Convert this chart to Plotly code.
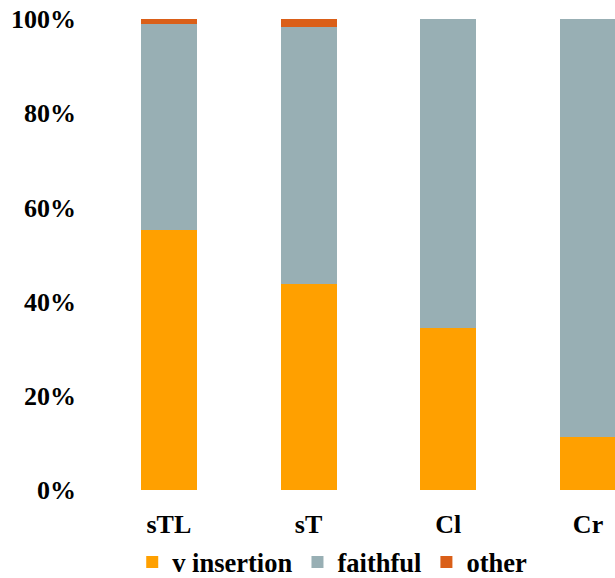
import plotly.graph_objects as go

# Share of responses per condition (percent)
conditions = ["sTL", "sT", "Cl", "Cr"]
v_insertion = [55.1, 43.7, 34.3, 11.3]
faithful = [43.8, 54.7, 65.7, 88.7]
other = [1.1, 1.6, 0.0, 0.0]

series = [
    ("v insertion", v_insertion, "#FFA000"),
    ("faithful", faithful, "#98AFB4"),
    ("other", other, "#DA5F18"),
]

FONT = "Liberation Serif"

fig = go.Figure()
for name, vals, color in series:
    fig.add_trace(go.Bar(
        x=conditions,
        y=[v / 100 for v in vals],
        name=name,
        marker=dict(color=color, line=dict(width=0)),
        width=0.4,
    ))

fig.update_layout(
    barmode="stack",
    width=615,
    height=578,
    margin=dict(l=99, r=0, t=19, b=88),
    plot_bgcolor="white",
    paper_bgcolor="white",
    font=dict(family=FONT, size=26, color="black"),
    showlegend=True,
    legend=dict(
        orientation="h",
        traceorder="normal",
        xref="container", yref="container",
        x=0.215, y=0.027,
        xanchor="left", yanchor="middle",
        font=dict(family=FONT, size=26.5, color="black", weight="bold"),
        tracegroupgap=0,
    ),
    bargap=0.6,
)

fig.update_xaxes(
    type="category",
    range=[-0.5, 3.193],
    showgrid=False, showline=False, zeroline=False,
    ticks="",
    ticklabelstandoff=16,
    tickfont=dict(family=FONT, size=26, color="black", weight="bold"),
)
fig.update_yaxes(
    range=[0, 1],
    tickvals=[0, 0.2, 0.4, 0.6, 0.8, 1.0],
    tickformat=".0%",
    showgrid=False, showline=False, zeroline=False,
    ticks="",
    ticklabelstandoff=22,
    tickfont=dict(family=FONT, size=26, color="black", weight="bold"),
)

fig.write_html("out.html")
